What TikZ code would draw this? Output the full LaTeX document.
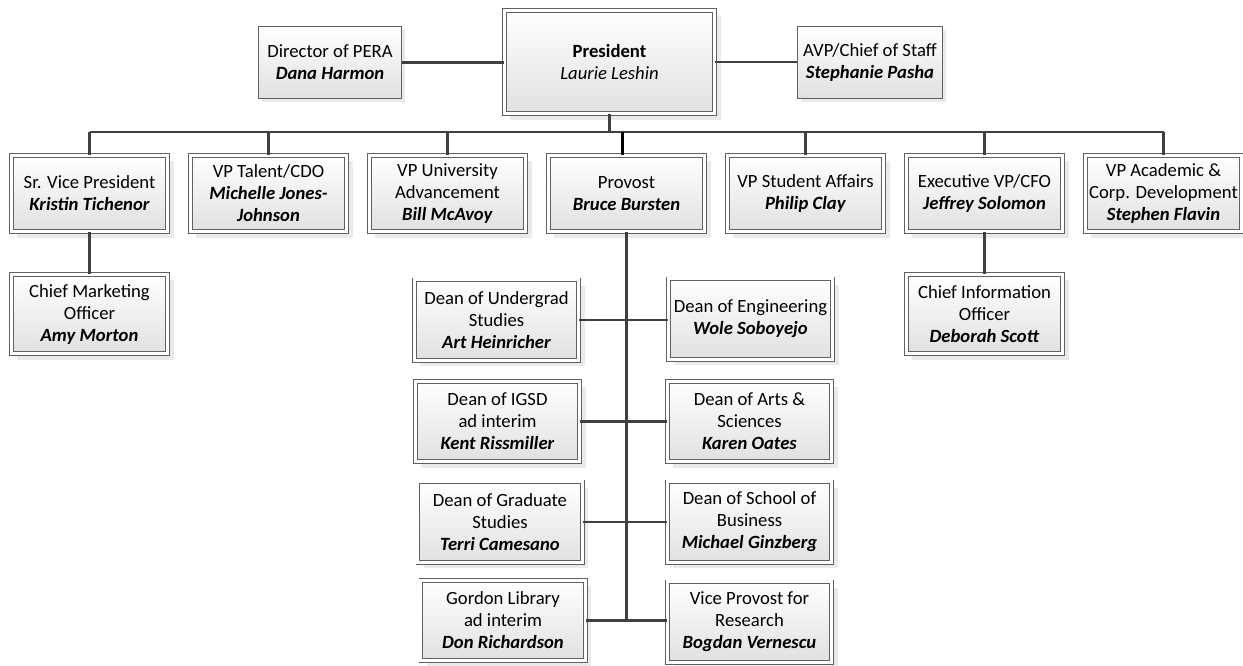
\documentclass[tikz,border=0pt]{standalone}
\usepackage{fontspec}
\setmainfont{Carlito}
\usetikzlibrary{shadows}
\newcommand{\who}[1]{\textbf{\textit{#1}}}
\tikzset{
  unitbox/.style 2 args={draw=black!62, line width=0.6pt, double=white, double distance=2.2pt,
    top color=white, bottom color=black!12, align=center, inner sep=1pt,
    minimum width=#1*0.75pt-3.4pt, minimum height=#2*0.75pt-3.4pt,
    drop shadow={shadow xshift=4.5pt, shadow yshift=-4.5pt, fill=black!16}},
  staffbox/.style 2 args={draw=black!62, line width=0.75pt,
    top color=white, bottom color=black!12, align=center, inner sep=1pt,
    minimum width=#1*0.75pt-0.75pt, minimum height=#2*0.75pt-0.75pt,
    drop shadow={shadow xshift=2.5pt, shadow yshift=-2.5pt, fill=black!16}},
  link/.style={draw=black!75, line width=1.6pt}
}
\begin{document}
\begin{tikzpicture}[x=0.75pt, y=-0.75pt, every node/.style={font=\fontsize{14}{16.5}\selectfont}]
    \useasboundingbox (0,0) rectangle (1243,665);
    % top row
    \node[staffbox={144}{73}] (pera) at (330,62.5) {Director of PERA\\\who{Dana Harmon}};
    \node[unitbox={215}{108}] (pres) at (609.5,62) {\textbf{President}\\\textit{Laurie Leshin}};
    \node[staffbox={146}{73}] (avp) at (870,62.5) {AVP/Chief of Staff\\\who{Stephanie Pasha}};
    \coordinate (bar) at (0,132);
    % vice presidents
    \foreach \n/\i/\txt in {svp/0/{Sr. Vice President\\\who{Kristin Tichenor}},
        tal/1/{VP Talent/CDO\\\who{Michelle Jones-}\\\who{Johnson}},
        adv/2/{VP University\\Advancement\\\who{Bill McAvoy}},
        prov/3/{Provost\\\who{Bruce Bursten}},
        stu/4/{VP Student Affairs\\\who{Philip Clay}},
        cfo/5/{Executive VP/CFO\\\who{Jeffrey Solomon}},
        acad/6/{VP Academic \&\\Corp. Development\\\who{Stephen Flavin}}} {
      \node[unitbox={161}{81}] (\n) at ({89.5+179*\i},193.5) {\txt};
    }
    \node[unitbox={161}{84}] (cmo) at (89.5,314) {Chief Marketing\\Officer\\\who{Amy Morton}};
    \node[unitbox={161}{84}] (cio) at (984.5,314) {Chief Information\\Officer\\\who{Deborah Scott}};
    % deans
    \foreach \n/\x/\y/\txt in {ug/496.5/320/{Dean of Undergrad\\Studies\\\who{Art Heinricher}},
        igsd/497.5/421.5/{Dean of IGSD\\ad interim\\\who{Kent Rissmiller}},
        grad/500/522/{Dean of Graduate\\Studies\\\who{Terri Camesano}},
        lib/503/620.5/{Gordon Library\\ad interim\\\who{Don Richardson}},
        eng/750.5/319/{Dean of Engineering\\\who{Wole Soboyejo}},
        arts/749.5/421.5/{Dean of Arts \&\\Sciences\\\who{Karen Oates}},
        bus/749.5/522/{Dean of School of\\Business\\\who{Michael Ginzberg}},
        res/749.5/622/{Vice Provost for\\Research\\\who{Bogdan Vernescu}}} {
      \node[unitbox={169}{85}] (\n) at (\x,\y) {\txt};
    }
    % connectors
    \draw[link] (pera.east) -- (pera.east -| pres.west);
    \draw[link] (pres.east) -- (pres.east -| avp.west);
    \draw[link] (pres.south) -- (pres.south |- bar);
    \draw[link] (svp.north |- bar) -- (acad.north |- bar);
    \foreach \n in {svp,tal,adv,stu,cfo,acad}
      \draw[link] (\n.north) -- (\n.north |- bar);
    \draw[link, draw=black, line width=2pt] ([xshift=-3pt]prov.north) -- ([xshift=-3pt]prov.north |- bar);
    \draw[link] (svp) -- (cmo);
    \draw[link] (cfo) -- (cio);
    \draw[link] (prov.south) -- (prov.south |- res.west);
    \foreach \a/\b in {ug/eng,igsd/arts,grad/bus,lib/res}
      \draw[link] (\a.east) -- (\a.east -| \b.west);
  \end{tikzpicture}
\end{document}
